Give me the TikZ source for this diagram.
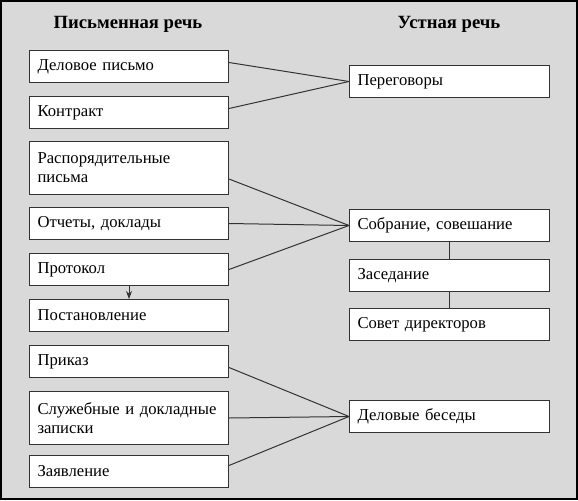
\documentclass[tikz,border=0pt]{standalone}
\usepackage{fontspec}
\setmainfont{Liberation Serif}
\usetikzlibrary{arrows.meta}
\begin{document}
\begin{tikzpicture}[x=0.75pt,y=-0.75pt,
  box/.style={draw=black!80, line width=0.75pt, fill=white, anchor=north west, align=left,
    inner xsep=6pt, inner ysep=0pt, font=\fontsize{12.5}{14.25}\selectfont},
  lbox/.style={box, text width=137.25pt, minimum height=24pt},
  lbox2/.style={box, text width=137.25pt, minimum height=39.75pt},
  rbox/.style={box, text width=138pt, minimum height=24pt},
  conn/.style={draw=black!80, line width=0.75pt},
  head/.style={font=\fontsize{14}{16}\selectfont\bfseries, anchor=base}
]
\useasboundingbox (0,0) rectangle (578,500);
\draw[fill={rgb,255:red,217;green,217;blue,217}, draw=black, line width=1.5pt] (0.75,0.75) rectangle (577.25,499.25);

\node[head] (h1) at (128,28) {Письменная речь};
\node[head] (h2) at (449,28) {Устная речь};

% left column
\node[lbox]  (delo)  at (29,50)  {Деловое письмо};
\node[lbox]  (kontr) at (29,96)  {Контракт};
\node[lbox2] (rasp)  at (29,141) {Распорядительные\\письма};
\node[lbox]  (otch)  at (29,207) {Отчеты, доклады};
\node[lbox]  (prot)  at (29,253) {Протокол};
\node[lbox]  (post)  at (29,299) {Постановление};
\node[lbox]  (prik)  at (29,345) {Приказ};
\node[lbox2] (sluzh) at (29,391) {Служебные и докладные\\записки};
\node[lbox]  (zayav) at (29,455) {Заявление};

% right column
\node[rbox] (pereg) at (349,65)  {Переговоры};
\node[rbox] (sobr)  at (349,209) {Собрание, совешание};
\node[rbox] (zased) at (349,259) {Заседание};
\node[rbox] (sovet) at (349,308) {Совет директоров};
\node[rbox] (beseda) at (349,400) {Деловые беседы};

% connectors
\draw[conn] ([yshift=3pt]delo.east) -- (pereg.west);
\draw[conn] ([yshift=3pt]kontr.east) -- (pereg.west);
\draw[conn] ([yshift=-8.25pt]rasp.east) -- (sobr.west);
\draw[conn] (otch.east) -- (sobr.west);
\draw[conn] (prot.east) -- (sobr.west);
\draw[conn] ([yshift=-4.5pt]prik.east) -- (beseda.west);
\draw[conn] (sluzh.east) -- (beseda.west);
\draw[conn] ([yshift=4.5pt]zayav.east) -- (beseda.west);
\draw[conn] (sobr.south) -- (zased.north);
\draw[conn] (zased.south) -- (sovet.north);
\draw[conn, -{Stealth[length=6pt,width=4.5pt]}] (prot.south) -- (post.north);
\end{tikzpicture}
\end{document}
